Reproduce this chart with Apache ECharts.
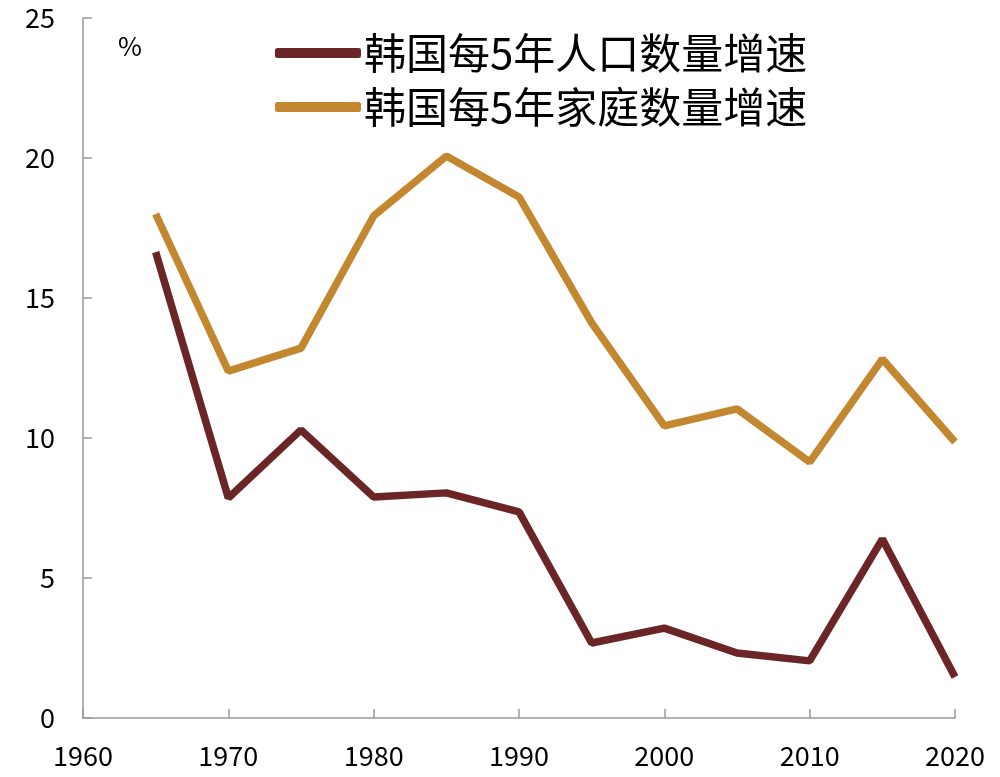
<!DOCTYPE html>
<html><head><meta charset="utf-8">
<script src="https://cdn.jsdelivr.net/npm/echarts@6/dist/echarts.min.js"></script>
<style>html,body{margin:0;padding:0;background:#fff}#c{width:1000px;height:777px}</style>
</head><body><div id="c"></div>
<script>
const years = [1965,1970,1975,1980,1985,1990,1995,2000,2005,2010,2015,2020];
const popGrowth = [16.64,7.86,10.29,7.89,8.04,7.36,2.68,3.21,2.32,2.04,6.39,1.46];
const hhGrowth = [18.0,12.39,13.21,17.93,20.07,18.61,14.11,10.43,11.04,9.14,12.82,9.86];
const seriesNames = ['韩国每5年人口数量增速','韩国每5年家庭数量增速'];
const unitLabel = '%';
const font = '"Noto Sans CJK SC", sans-serif';
const chart = echarts.init(document.getElementById('c'));
chart.setOption({
  animation:false,
  backgroundColor:'#fff',
  grid:{left:83,right:45,top:18,bottom:59,containLabel:false},
  legend:{orient:'vertical',left:270,top:27,itemWidth:86,itemHeight:10,itemGap:12,icon:'roundRect',
    textStyle:{fontFamily:font,fontSize:42,color:'#000',padding:[0,0,0,-2]},
    data:seriesNames},
  graphic:[{type:'text',left:118,top:33,style:{text:unitLabel,fontFamily:font,fontSize:26,fill:'#000'}}],
  xAxis:{type:'value',min:1960,max:2020,interval:10,
    axisLine:{lineStyle:{color:'#999',width:1.5}},
    axisTick:{inside:true,length:9,lineStyle:{color:'#999',width:1.5}},
    axisLabel:{fontFamily:font,fontSize:27,color:'#000',margin:24,formatter:v=>String(v)},
    splitLine:{show:false}},
  yAxis:{type:'value',min:0,max:25,interval:5,
    axisLine:{show:true,lineStyle:{color:'#999',width:1.5}},
    axisTick:{show:true,inside:true,length:9,lineStyle:{color:'#999',width:1.5}},
    axisLabel:{fontFamily:font,fontSize:27,color:'#000',margin:28},
    splitLine:{show:false}},
  series:[
    {name:seriesNames[0],type:'line',data:years.map((y,i)=>[y,popGrowth[i]]),showSymbol:false,symbol:'none',
      lineStyle:{color:'#6B2526',width:7.5},itemStyle:{color:'#6B2526'}},
    {name:seriesNames[1],type:'line',data:years.map((y,i)=>[y,hhGrowth[i]]),showSymbol:false,symbol:'none',
      lineStyle:{color:'#C3872F',width:7.5},itemStyle:{color:'#C3872F'}}
  ]
});
</script></body></html>
